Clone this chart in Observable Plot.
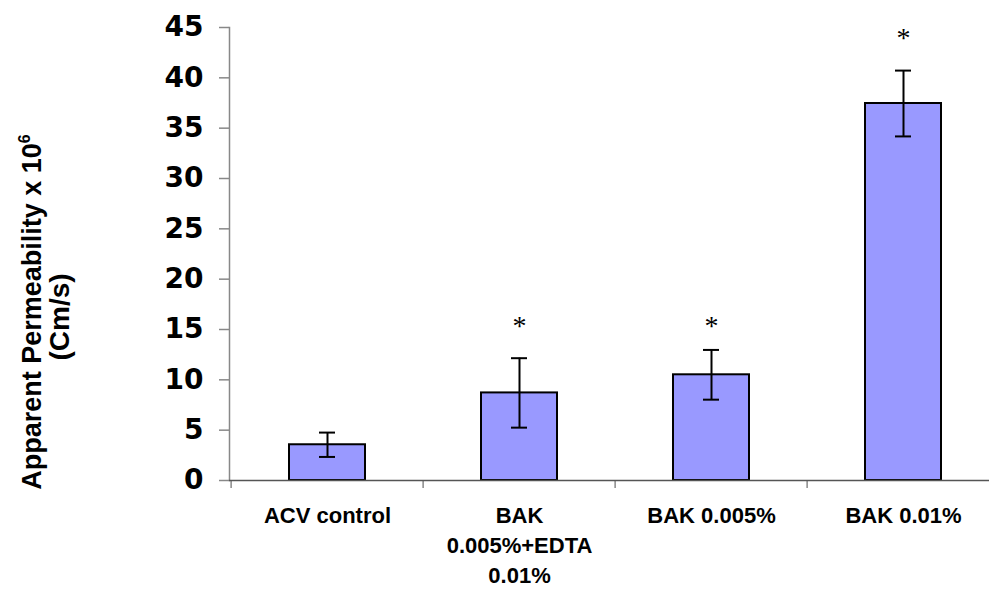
<!DOCTYPE html>
<html>
<head>
<meta charset="utf-8">
<script src="https://cdn.jsdelivr.net/npm/d3@7"></script>
<script src="https://cdn.jsdelivr.net/npm/@observablehq/plot@0.6"></script>
<style>
  html, body { margin: 0; padding: 0; background: #fff; }
  #chart svg { display: block; }
</style>
</head>
<body>
<div id="chart"></div>
<script>
const categories = ["ACV control", "BAK 0.005%+EDTA 0.01%", "BAK 0.005%", "BAK 0.01%"];
const tickLabels = ["ACV control", "BAK\n0.005%+EDTA\n0.01%", "BAK 0.005%", "BAK 0.01%"];
const means = [3.55, 8.7, 10.5, 37.45];
const errors = [1.21, 3.45, 2.47, 3.27];
const significant = [false, true, true, true];
const starLevels = [null, 15.3, 15.3, 44.0];
const yTicks = [0, 5, 10, 15, 20, 25, 30, 35, 40, 45];
const yTitle = "Apparent Permeability x 10";
const yTitleSup = "6";
const yTitleLine2 = "(Cm/s)";

const data = categories.map((c, i) => ({
  cat: c, mean: means[i], lo: means[i] - errors[i], hi: means[i] + errors[i],
  star: significant[i] ? starLevels[i] : null
}));
const stars = data.filter(d => d.star != null);

const W = 989, H = 590;
const step = (1000 - 229) / categories.length;

const chart = Plot.plot({
  width: W,
  height: H,
  marginLeft: 229,
  marginRight: 0,
  marginTop: 27,
  marginBottom: 110,
  style: {fontFamily: "Liberation Sans, Arial, sans-serif", background: "#fff"},
  x: {domain: categories, range: [229, 1000], paddingInner: 0.605, paddingOuter: 0.3025, align: 0.5},
  y: {domain: [0, 45]},
  marks: [
    Plot.frame({anchor: "left", stroke: "#888", strokeWidth: 1.5}),
    Plot.axisY({ticks: yTicks, tickSize: 10, tickPadding: 16, stroke: "#888", strokeWidth: 1.5,
      fontSize: 28, fontWeight: "bold", fontFamily: "DejaVu Sans", fill: "#000", label: null}),
    Plot.axisX({tickSize: 8, tickFormat: null, dx: -step / 2, stroke: "#888", strokeWidth: 1.5, label: null}),
    Plot.axisX({tickSize: 0, tickPadding: 21, tickFormat: d => tickLabels[categories.indexOf(d)],
      fontSize: 22, fontWeight: "bold", lineHeight: 1.36, fill: "#000", label: null}),
    Plot.barY(data, {x: "cat", y: "mean", fill: "#9999FF", stroke: "#000", strokeWidth: 2}),
    Plot.ruleY([0], {stroke: "#555", strokeWidth: 1.5}),
    Plot.ruleX(data, {x: "cat", y1: "lo", y2: "hi", stroke: "#000", strokeWidth: 2}),
    Plot.tickY(data, {x: "cat", y: "hi", stroke: "#000", strokeWidth: 2, insetLeft: 30, insetRight: 30}),
    Plot.tickY(data, {x: "cat", y: "lo", stroke: "#000", strokeWidth: 2, insetLeft: 30, insetRight: 30}),
    Plot.text(stars, {x: "cat", y: "star", text: () => "*", fontSize: 28,
      fontFamily: "Liberation Serif, Times New Roman, serif", fill: "#000", lineAnchor: "middle"})
  ]
});

document.getElementById("chart").appendChild(chart);

// Y-axis title (two lines, rotated, with superscript)
const svg = d3.select(chart);
const t1 = svg.append("text")
  .attr("transform", "translate(41,312) rotate(-90)")
  .attr("text-anchor", "middle")
  .attr("font-family", "Liberation Sans, Arial, sans-serif")
  .attr("font-weight", "bold")
  .attr("font-size", 27)
  .attr("fill", "#000");
t1.append("tspan").text(yTitle);
t1.append("tspan").attr("font-size", 16).attr("dy", -11).text(yTitleSup);

svg.append("text")
  .attr("transform", "translate(69,317) rotate(-90)")
  .attr("text-anchor", "middle")
  .attr("font-family", "Liberation Sans, Arial, sans-serif")
  .attr("font-weight", "bold")
  .attr("font-size", 28)
  .attr("fill", "#000")
  .text(yTitleLine2);
</script>
</body>
</html>
